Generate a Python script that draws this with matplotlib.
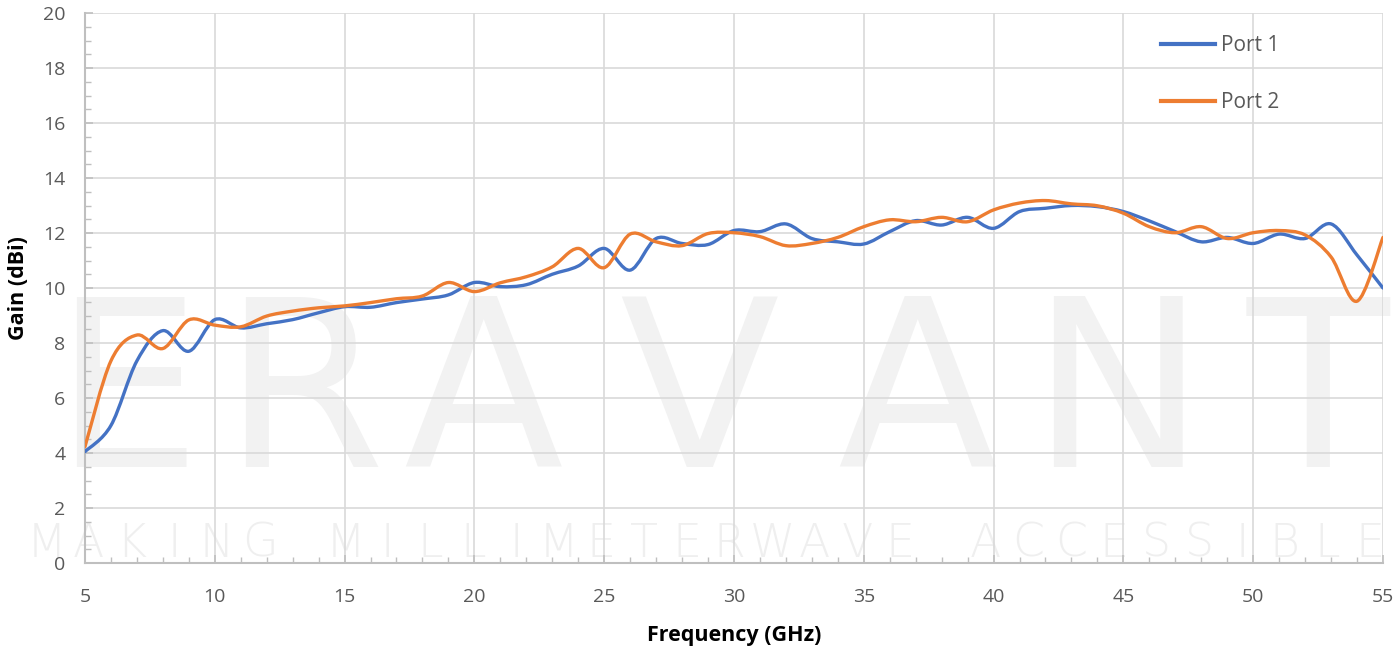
import numpy as np
import matplotlib
matplotlib.use('Agg')
import matplotlib.pyplot as plt
from matplotlib.path import Path
from matplotlib.patches import PathPatch
from matplotlib.lines import Line2D

plt.rcParams['font.family'] = ['Open Sans', 'DejaVu Sans']

freq = list(range(5, 56))
port1 = [4.05, 5.0, 7.35, 8.45, 7.7, 8.85, 8.55, 8.7, 8.85, 9.1, 9.32, 9.3, 9.47, 9.6, 9.75,
         10.2, 10.05, 10.12, 10.5, 10.8, 11.44, 10.65, 11.8, 11.62, 11.58, 12.09, 12.05, 12.33,
         11.8, 11.68, 11.6, 12.05, 12.45, 12.29, 12.57, 12.17, 12.78, 12.9, 13.0, 12.96, 12.78,
         12.44, 12.05, 11.68, 11.84, 11.62, 11.96, 11.8, 12.33, 11.2, 10.0]
port2 = [4.23, 7.35, 8.29, 7.8, 8.84, 8.65, 8.59, 8.98, 9.16, 9.28, 9.35, 9.47, 9.61, 9.71, 10.2,
         9.87, 10.19, 10.41, 10.77, 11.44, 10.74, 11.96, 11.68, 11.54, 11.98, 12.01, 11.87, 11.54,
         11.62, 11.84, 12.23, 12.48, 12.41, 12.57, 12.41, 12.84, 13.09, 13.18, 13.06, 12.99, 12.72,
         12.23, 12.01, 12.23, 11.8, 12.01, 12.09, 11.93, 11.13, 9.52, 11.84]

series = [('Port 1', port1, '#4472C4'), ('Port 2', port2, '#ED7D31')]


def smooth_path(x, y):
    # excel style smoothed line: cubic bezier through every point
    x = np.asarray(x, float)
    y = np.asarray(y, float)
    n = len(x)
    verts = [(x[0], y[0])]
    codes = [Path.MOVETO]
    for i in range(n - 1):
        x0, y0 = (x[i - 1], y[i - 1]) if i > 0 else (x[i], y[i])
        x3, y3 = (x[i + 2], y[i + 2]) if i + 2 < n else (x[i + 1], y[i + 1])
        c1 = (x[i] + (x[i + 1] - x0) / 6, y[i] + (y[i + 1] - y0) / 6)
        c2 = (x[i + 1] - (x3 - x[i]) / 6, y[i + 1] - (y3 - y[i]) / 6)
        verts += [c1, c2, (x[i + 1], y[i + 1])]
        codes += [Path.CURVE4] * 3
    return Path(verts, codes)


fig = plt.figure(figsize=(13.93, 6.47), dpi=100)
ax = fig.add_axes([0.061, 0.1298, 0.9318, 0.8501])

# watermark (behind grid)
wm_letters = 'ERAVANT'
wm_x = [0.032, 0.168, 0.307, 0.473, 0.641, 0.795, 0.95]
for ch, xx in zip(wm_letters, wm_x):
    ax.text(xx, 0.292, ch, transform=ax.transAxes, fontsize=168, color='#F2F2F2',
            ha='center', va='center', family='DejaVu Sans', zorder=0, clip_on=False)
sub = 'MAKING MILLIMETERWAVE ACCESSIBLE'
for i, ch in enumerate(sub):
    xx = -0.03 + i * (1.02 / (len(sub) - 1))
    ax.text(xx, 0.035, ch, transform=ax.transAxes, fontsize=33, color='#EFEFEF',
            ha='center', va='center', family='DejaVu Sans', fontweight='light', zorder=0,
            clip_on=False)

handles = []
for name, vals, col in series:
    p = PathPatch(smooth_path(freq, vals), facecolor='none', edgecolor=col, lw=2.4,
                  capstyle='round', joinstyle='round', zorder=3)
    ax.add_patch(p)
    handles.append(Line2D([], [], color=col, lw=3, label=name))

ax.set_xlim(5, 55)
ax.set_ylim(0, 20)
ax.set_xticks(range(5, 56, 5))
ax.set_yticks(range(0, 21, 2))
ax.set_xticks(range(5, 56), minor=True)
ax.set_yticks(np.arange(0, 20.01, 0.5), minor=True)
ax.grid(True, which='major', color='#D9D9D9', lw=1.2, zorder=1)
ax.set_axisbelow(True)

for s in ['top', 'right']:
    ax.spines[s].set_visible(False)
for s in ['left', 'bottom']:
    ax.spines[s].set_color('#BFBFBF')
    ax.spines[s].set_linewidth(1.5)

ax.tick_params(which='major', direction='in', length=6, color='#BFBFBF', width=1.2,
               labelsize=14, labelcolor='#595959')
ax.tick_params(which='minor', direction='in', length=4, color='#BFBFBF', width=1.0)
ax.tick_params(axis='x', pad=18)
ax.tick_params(axis='y', pad=14)

ax.set_xlabel('Frequency (GHz)', fontsize=15.5, fontweight='bold', labelpad=14)
ax.set_ylabel('Gain (dBi)', fontsize=15.5, fontweight='bold', labelpad=10)

ax.legend(handles=handles, loc='upper left', bbox_to_anchor=(0.829, 0.96), frameon=False,
          fontsize=15, labelspacing=1.75, handlelength=2.6, handletextpad=0.3,
          borderpad=0, borderaxespad=0, labelcolor='#595959')

fig.savefig('out.png', dpi=100)
